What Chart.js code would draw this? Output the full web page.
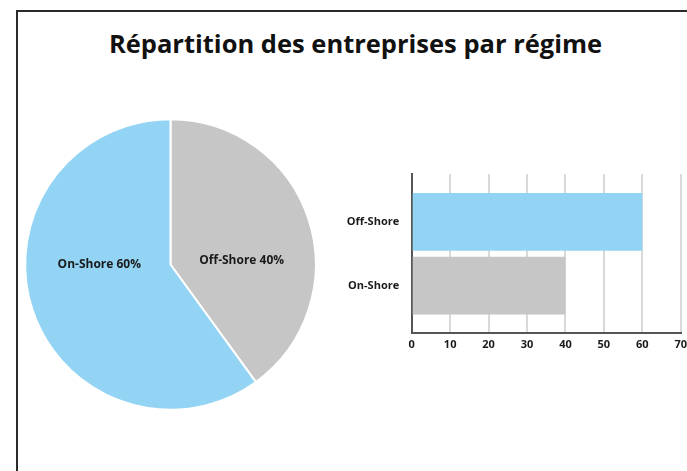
<!DOCTYPE html>
<html><head><meta charset="utf-8">
<script src="https://cdn.jsdelivr.net/npm/chart.js@4"></script>
<style>
html,body{margin:0;padding:0;background:#fff;width:687px;height:471px;overflow:hidden;}
#frame{position:absolute;left:16px;top:10px;width:720px;height:520px;border-left:2px solid #2b2b2b;border-top:2px solid #2b2b2b;}
#title{position:absolute;left:0;top:31px;width:711px;text-align:center;font-family:"Open Sans",sans-serif;font-weight:700;font-size:25.5px;line-height:25.5px;color:#111;white-space:nowrap;}
#pieBox{position:absolute;left:20px;top:114px;width:301px;height:301px;}
#barBox{position:absolute;left:330px;top:154.7px;width:362px;height:205.3px;}
</style></head>
<body>
<div id="frame"></div>
<div id="title">Répartition des entreprises par régime</div>
<div id="pieBox"><canvas id="pie"></canvas></div>
<div id="barBox"><canvas id="bar"></canvas></div>
<script>
const pieLabels = ["Off-Shore", "On-Shore"];
const pieValues = [40, 60];
const pieColors = ["#c6c6c6", "#93d4f5"];

const barLabels = ["Off-Shore", "On-Shore"];
const barValues = [60, 40];
const barColors = ["#93d4f5", "#c6c6c6"];
const xTicks = [0, 10, 20, 30, 40, 50, 60, 70];

const FONT = '"Open Sans", sans-serif';

const pieLabelPlugin = {
  id: 'pieLabelPlugin',
  afterDatasetsDraw(chart) {
    const ctx = chart.ctx;
    const meta = chart.getDatasetMeta(0);
    const ds = chart.data.datasets[0];
    const total = ds.data.reduce((a, b) => a + b, 0);
    ctx.save();
    ctx.font = 'bold 12px ' + FONT;
    ctx.fillStyle = '#1a1a1a';
    ctx.textAlign = 'center';
    ctx.textBaseline = 'middle';
    meta.data.forEach((arc, i) => {
      const p = arc.getProps(['x', 'y', 'startAngle', 'endAngle', 'outerRadius'], true);
      const mid = (p.startAngle + p.endAngle) / 2;
      const x = p.x + Math.sign(Math.cos(mid)) * 0.49 * p.outerRadius;
      const y = p.y - 2 + 6.5 * Math.sin(mid);
      const pct = Math.round(ds.data[i] / total * 100);
      ctx.fillText(chart.data.labels[i] + ' ' + pct + '%', x, y);
    });
    ctx.restore();
  }
};

new Chart(document.getElementById('pie'), {
  type: 'pie',
  data: {
    labels: pieLabels,
    datasets: [{ data: pieValues, backgroundColor: pieColors, borderColor: '#ffffff', borderWidth: 2 }]
  },
  options: {
    responsive: true, maintainAspectRatio: false, animation: false, events: [],
    radius: 145.3,
    layout: { padding: 0 },
    plugins: { legend: { display: false }, tooltip: { enabled: false } }
  },
  plugins: [pieLabelPlugin]
});

new Chart(document.getElementById('bar'), {
  type: 'bar',
  data: {
    datasets: [{
      data: barValues.map((v, i) => ({ x: v, y: i })),
      backgroundColor: barColors, borderWidth: 0, categoryPercentage: 1, barPercentage: 0.906
    }]
  },
  options: {
    indexAxis: 'y',
    responsive: true, maintainAspectRatio: false, animation: false, events: [],
    layout: { padding: { top: 7.7, right: 7, bottom: 0, left: 0 } },
    plugins: { legend: { display: false }, tooltip: { enabled: false } },
    scales: {
      x: {
        type: 'linear',
        min: xTicks[0], max: xTicks[xTicks.length - 1],
        afterBuildTicks(scale) { scale.ticks = xTicks.map(v => ({ value: v })); },
        afterFit(scale) { scale.height = 27; },
        grid: { color: '#d9d9d9', lineWidth: 2, drawTicks: false },
        border: { color: '#555555', width: 2 },
        ticks: { padding: 5, color: '#1a1a1a', font: { family: FONT, weight: 'bold', size: 11 } }
      },
      y: {
        type: 'linear', reverse: true, offset: false, min: -0.75, max: barLabels.length - 0.25,
        afterBuildTicks(scale) { scale.ticks = barLabels.map((_, i) => ({ value: i })); },
        afterFit(scale) { scale.width = 81.7; },
        grid: { display: false, drawTicks: false },
        border: { color: '#555555', width: 2 },
        ticks: { padding: 12.5, color: '#1a1a1a', font: { family: FONT, weight: 'bold', size: 11 },
                 callback: (v) => barLabels[v] }
      }
    }
  }
});
</script>
</body></html>
